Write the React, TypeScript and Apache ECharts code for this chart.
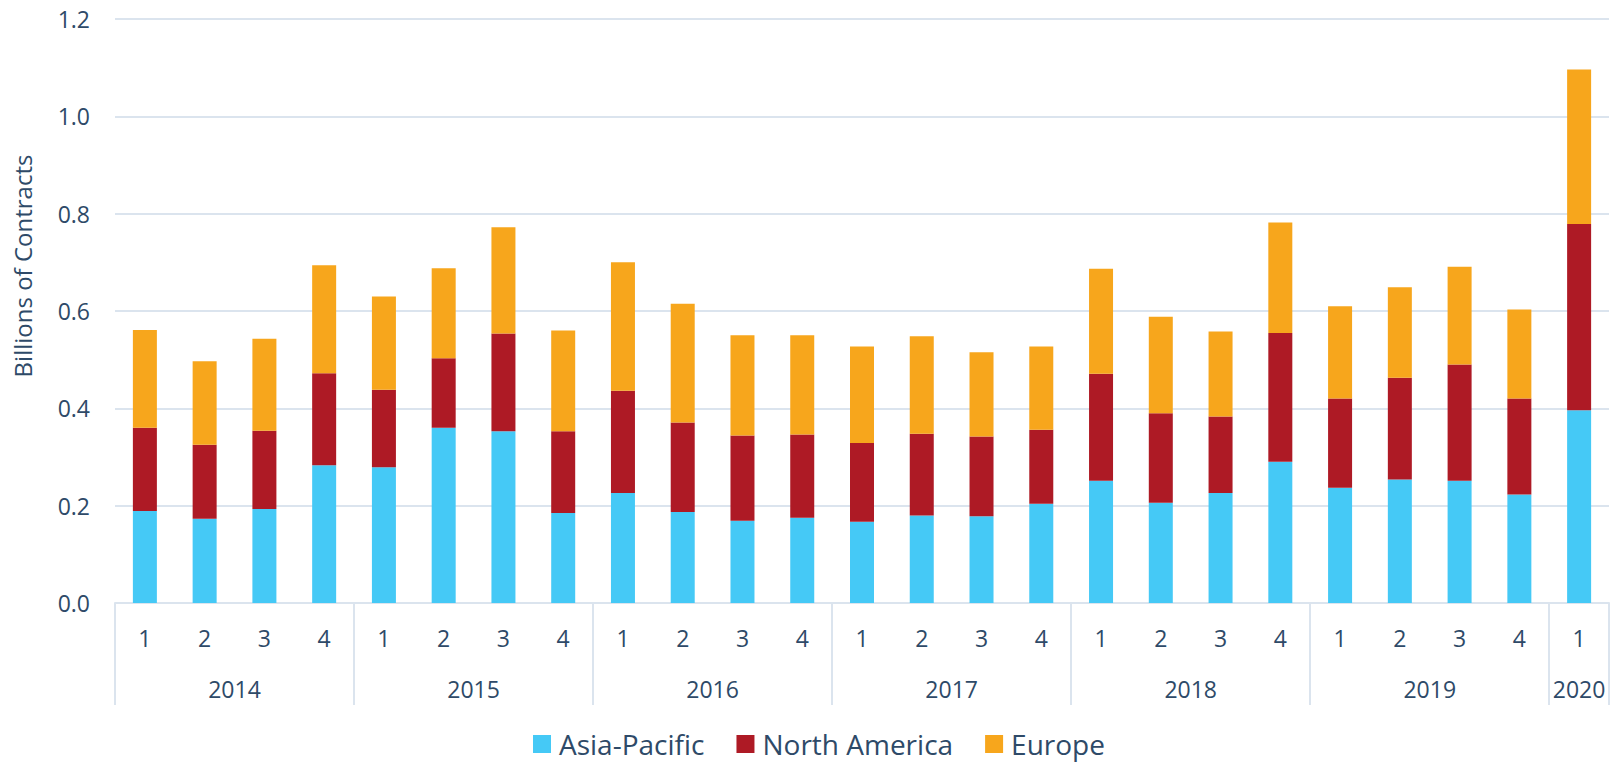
import React, { useEffect, useRef } from "react";
import * as echarts from "echarts";

const quarterLabels = [
  "1", "2", "3", "4",
  "1", "2", "3", "4",
  "1", "2", "3", "4",
  "1", "2", "3", "4",
  "1", "2", "3", "4",
  "1", "2", "3", "4",
  "1",
];
const years = ["2014", "2015", "2016", "2017", "2018", "2019", "2020"];
const quartersPerYear = [4, 4, 4, 4, 4, 4, 1];

const asiaPacific = [
  0.189, 0.173, 0.193, 0.283,
  0.279, 0.360, 0.353, 0.185,
  0.226, 0.187, 0.169, 0.175,
  0.167, 0.180, 0.178, 0.204,
  0.251, 0.206, 0.226, 0.290,
  0.237, 0.254, 0.251, 0.223,
  0.396,
];
const northAmerica = [
  0.171, 0.152, 0.161, 0.189,
  0.159, 0.143, 0.201, 0.168,
  0.210, 0.184, 0.175, 0.171,
  0.162, 0.168, 0.164, 0.152,
  0.220, 0.184, 0.157, 0.265,
  0.183, 0.209, 0.239, 0.197,
  0.383,
];
const europe = [
  0.201, 0.172, 0.189, 0.222,
  0.192, 0.185, 0.218, 0.207,
  0.264, 0.244, 0.206, 0.204,
  0.198, 0.200, 0.173, 0.171,
  0.216, 0.198, 0.175, 0.227,
  0.190, 0.186, 0.201, 0.183,
  0.317,
];

const yTicks = { min: 0, max: 1.2, interval: 0.2 };

const TEXT = "#2e4a68";
const LINE = "#dbe4ee";
const FONT = "'Open Sans', 'Noto Sans', sans-serif";

export default function App() {
  const ref = useRef<HTMLDivElement>(null);

  useEffect(() => {
    if (!ref.current) return;
    const chart = echarts.init(ref.current, undefined, { renderer: "svg" });

    const boundaries: number[] = [0];
    const yearCenters: number[] = [];
    let acc = 0;
    quartersPerYear.forEach((n) => {
      yearCenters.push(acc + n / 2);
      acc += n;
      boundaries.push(acc);
    });

    chart.setOption({
      animation: false,
      textStyle: { fontFamily: FONT },
      grid: { left: 115, right: 8, top: 19, bottom: 160, containLabel: false },
      legend: {
        bottom: 0,
        left: 528,
        itemWidth: 18,
        itemHeight: 18,
        itemGap: 32,
        icon: "rect",
        textStyle: { fontSize: 28, color: TEXT, fontFamily: FONT, padding: [0, 0, 0, 3] },
        data: ["Asia-Pacific", "North America", "Europe"],
      },
      xAxis: [
        {
          type: "category",
          data: quarterLabels,
          axisLine: { show: true, lineStyle: { color: LINE, width: 2 } },
          axisTick: { show: false },
          axisLabel: { color: TEXT, fontSize: 23, margin: 23, fontFamily: FONT, interval: 0 },
          splitLine: { show: false },
        },
        {
          type: "value",
          min: 0,
          max: quarterLabels.length,
          position: "bottom",
          axisLine: { show: false },
          splitLine: { show: false },
          axisTick: {
            show: true,
            customValues: boundaries,
            length: 102,
            lineStyle: { color: LINE, width: 2 },
          },
          axisLabel: {
            show: true,
            customValues: yearCenters,
            color: TEXT,
            fontSize: 23,
            margin: 74,
            fontFamily: FONT,
            formatter: (v: number) => {
              const i = yearCenters.findIndex((c) => Math.abs(c - v) < 1e-6);
              return i >= 0 ? years[i] : "";
            },
          },
        },
      ],
      yAxis: {
        type: "value",
        min: yTicks.min,
        max: yTicks.max,
        interval: yTicks.interval,
        axisLine: { show: false },
        axisTick: { show: false },
        axisLabel: {
          color: TEXT,
          fontSize: 23,
          margin: 25,
          fontFamily: FONT,
          formatter: (v: number) => v.toFixed(1),
        },
        splitLine: { lineStyle: { color: LINE, width: 2 } },
      },
      graphic: [
        {
          type: "text",
          x: 22,
          y: 266,
          rotation: Math.PI / 2,
          style: {
            text: "Billions of Contracts",
            fill: TEXT,
            fontSize: 24,
            fontFamily: FONT,
            textAlign: "center",
            textVerticalAlign: "middle",
          },
        },
      ],
      series: [
        {
          name: "Asia-Pacific",
          type: "bar",
          stack: "total",
          barWidth: 24,
          itemStyle: { color: "#45c9f6" },
          data: asiaPacific,
        },
        {
          name: "North America",
          type: "bar",
          stack: "total",
          barWidth: 24,
          itemStyle: { color: "#ae1a25" },
          data: northAmerica,
        },
        {
          name: "Europe",
          type: "bar",
          stack: "total",
          barWidth: 24,
          itemStyle: { color: "#f7a61c" },
          data: europe,
        },
      ],
    });

    return () => chart.dispose();
  }, []);

  return (
    <div
      ref={ref}
      style={{ position: "fixed", left: 0, top: 0, width: 1617, height: 763, background: "#fff" }}
    />
  );
}
